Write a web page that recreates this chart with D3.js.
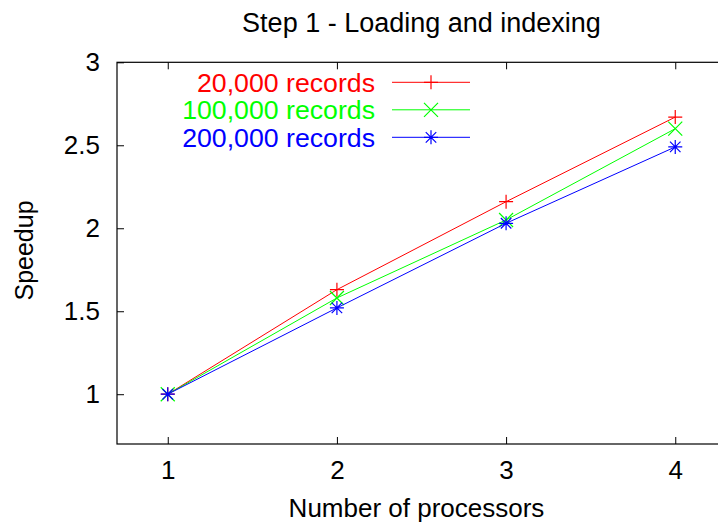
<!DOCTYPE html>
<html>
<head>
<meta charset="utf-8">
<script src="https://cdn.jsdelivr.net/npm/d3@7"></script>
<style>
  body { margin: 0; background: #fff; }
  svg { display: block; font-family: "Liberation Sans", Arial, sans-serif; }
</style>
</head>
<body>
<svg id="chart" width="718" height="524"></svg>
<script>
const processors = [1, 2, 3, 4];
const seriesNames = ["20,000 records", "100,000 records", "200,000 records"];
const seriesColors = ["#ff0000", "#00ff00", "#0000ff"];
const seriesMarkers = ["plus", "cross", "star"];
const speedup20k = [1, 1.63, 2.16, 2.67];
const speedup100k = [1, 1.58, 2.05, 2.60];
const speedup200k = [1, 1.52, 2.03, 2.49];
const yTicks = [1, 1.5, 2, 2.5, 3];
const xTicks = [1, 2, 3, 4];

const allSeries = [speedup20k, speedup100k, speedup200k];

const svg = d3.select("#chart");
const plotLeft = 117, plotRight = 726, plotTop = 62.3, plotBottom = 444;

const x = d3.scaleLinear().domain([0.7, 4.3]).range([plotLeft, plotRight]);
const y = d3.scaleLinear().domain([0.7, 3]).range([plotBottom, plotTop]);

// marker paths, drawn as strokes like gnuplot points
function markerPath(type, s) {
  const p = d3.path();
  if (type === "plus" || type === "star") {
    p.moveTo(-s, 0); p.lineTo(s, 0);
    p.moveTo(0, -s); p.lineTo(0, s);
  }
  if (type === "cross" || type === "star") {
    const d = type === "star" ? s * 0.75 : s;
    p.moveTo(-d, -d); p.lineTo(d, d);
    p.moveTo(-d, d); p.lineTo(d, -d);
  }
  return p.toString();
}

// axes with inward ticks
const fontSize = 26;
svg.append("g")
  .attr("transform", `translate(0,${plotBottom})`)
  .call(d3.axisBottom(x).tickValues(xTicks).tickSizeInner(-7).tickSizeOuter(0).tickPadding(17).tickFormat(d3.format("d")));
svg.append("g")
  .attr("transform", `translate(0,${plotTop})`)
  .call(d3.axisTop(x).tickValues(xTicks).tickSizeInner(-7).tickSizeOuter(0).tickFormat(""));
svg.append("g")
  .attr("transform", `translate(${plotLeft},0)`)
  .call(d3.axisLeft(y).tickValues(yTicks).tickSizeInner(-7).tickSizeOuter(0).tickPadding(17).tickFormat(d3.format("")));
svg.append("g")
  .attr("transform", `translate(${plotRight},0)`)
  .call(d3.axisRight(y).tickValues(yTicks).tickSizeInner(-7).tickSizeOuter(0).tickFormat(""));

svg.selectAll(".domain").remove();
svg.selectAll(".tick line").attr("stroke", "#000").attr("stroke-width", 1);
svg.selectAll(".tick text")
  .attr("font-size", fontSize)
  .attr("font-family", "Liberation Sans, Arial, sans-serif")
  .attr("fill", "#000");

// frame
svg.append("rect")
  .attr("x", plotLeft).attr("y", plotTop)
  .attr("width", plotRight - plotLeft).attr("height", plotBottom - plotTop)
  .attr("fill", "none").attr("stroke", "#000").attr("stroke-width", 1.2);

// lines and markers
const line = d3.line().x((d, i) => x(processors[i])).y((d) => y(d));
allSeries.forEach((vals, si) => {
  svg.append("path")
    .datum(vals)
    .attr("d", line)
    .attr("fill", "none")
    .attr("stroke", seriesColors[si])
    .attr("stroke-width", 1);
  svg.append("g").selectAll("path")
    .data(vals)
    .enter().append("path")
    .attr("transform", (d, i) => `translate(${x(processors[i])},${y(d)})`)
    .attr("d", markerPath(seriesMarkers[si], 7))
    .attr("fill", "none")
    .attr("stroke", seriesColors[si])
    .attr("stroke-width", 1.2);
});

// legend
const legend = svg.append("g");
seriesNames.forEach((name, i) => {
  const ly = 82.3 + i * 27.5;
  legend.append("text")
    .attr("x", 375).attr("y", ly + 9.5)
    .attr("text-anchor", "end")
    .attr("font-size", 26.7)
    .attr("fill", seriesColors[i])
    .text(name);
  legend.append("line")
    .attr("x1", 392).attr("x2", 470)
    .attr("y1", ly).attr("y2", ly)
    .attr("stroke", seriesColors[i]).attr("stroke-width", 1);
  legend.append("path")
    .attr("transform", `translate(431,${ly})`)
    .attr("d", markerPath(seriesMarkers[i], 7))
    .attr("fill", "none")
    .attr("stroke", seriesColors[i])
    .attr("stroke-width", 1.2);
});

// titles
svg.append("text")
  .attr("x", 421.5).attr("y", 32)
  .attr("text-anchor", "middle")
  .attr("font-size", 27)
  .text("Step 1 - Loading and indexing");
svg.append("text")
  .attr("x", 416.5).attr("y", 517)
  .attr("text-anchor", "middle")
  .attr("font-size", fontSize)
  .text("Number of processors");
svg.append("text")
  .attr("transform", "translate(33,250.5) rotate(-90)")
  .attr("text-anchor", "middle")
  .attr("font-size", 25)
  .text("Speedup");
</script>
</body>
</html>
